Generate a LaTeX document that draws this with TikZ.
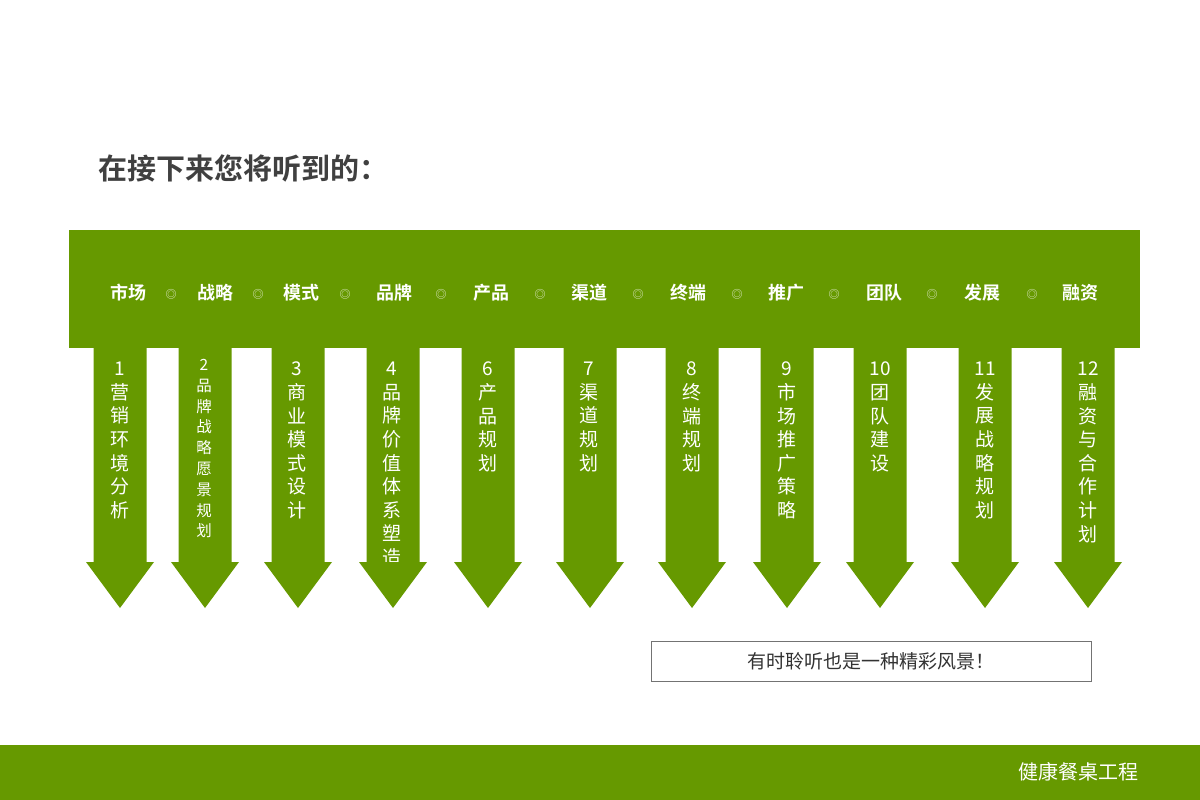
\documentclass[tikz,border=0pt]{standalone}
\usepackage{fontspec}
\setmainfont{Noto Sans CJK SC}
\newfontfamily\cjkb{Noto Sans CJK SC Bold}
\definecolor{gr}{HTML}{669900}
\begin{document}
\begin{tikzpicture}[x=1pt,y=-1pt,
  lab/.style={text=white,font=\cjkb\fontsize{18}{20}\selectfont},
  dot/.style={text=white!85!gr,font=\fontsize{11}{12}\selectfont},
  vt/.style={text=white,align=center,anchor=north,inner sep=0pt,font=\fontsize{19}{23.6}\selectfont}]
\useasboundingbox (0,0) rectangle (1200,800);
\fill[white] (0,0) rectangle (1200,800);
\node[anchor=west,text=black!75,font=\cjkb\fontsize{29}{32}\selectfont] (title) at (95,168) {在接下来您将听到的：};
\fill[gr] (69,230) rectangle (1140,348);
\foreach \c in {120,205,298,393,488,590,692,787,880,985,1088}{
  \fill[gr] (\c-26.5,346) -- (\c+26.5,346) -- (\c+26.5,562) -- (\c+34,562) -- (\c,608) -- (\c-34,562) -- (\c-26.5,562) -- cycle;}
\foreach \t/\x in {市场/128,战略/215,模式/301,品牌/394,产品/491,渠道/589,终端/688,推广/786,团队/884,发展/982,融资/1080}
  \node[lab] (l\x) at (\x,293) {\t};
\foreach \x in {171,258,345,441,540,638,737,834,932,1032}
  \node[dot] (d\x) at (\x,294) {◎};
\begin{scope}
\clip (0,350) rectangle (1200,561);
\node[vt] (a1) at (120,362) {1\\营\\销\\环\\境\\分\\析};
\node[vt,font=\fontsize{15.5}{20.8}\selectfont] (a2) at (204,359) {2\\品\\牌\\战\\略\\愿\\景\\规\\划};
\node[vt] (a3) at (297,362) {3\\商\\业\\模\\式\\设\\计};
\node[vt] (a4) at (392,362) {4\\品\\牌\\价\\值\\体\\系\\塑\\造};
\node[vt] (a6) at (488,362) {6\\产\\品\\规\\划};
\node[vt] (a7) at (589,362) {7\\渠\\道\\规\\划};
\node[vt] (a8) at (692,362) {8\\终\\端\\规\\划};
\node[vt] (a9) at (787,362) {9\\市\\场\\推\\广\\策\\略};
\node[vt] (a10) at (880,362) {10\\团\\队\\建\\设};
\node[vt] (a11) at (985,362) {11\\发\\展\\战\\略\\规\\划};
\node[vt] (a12) at (1088,362) {12\\融\\资\\与\\合\\作\\计\\划};
\end{scope}
\node[draw=black!55,minimum width=440,minimum height=40,inner sep=0pt,text=black!80,font=\fontsize{19}{21}\selectfont] (box) at (871,661) {有时聆听也是一种精彩风景！};
\fill[gr] (0,745) rectangle (1200,800);
\node[text=white,font=\fontsize{20}{22}\selectfont] (foot) at (1078,772) {健康餐桌工程};
\end{tikzpicture}
\end{document}
